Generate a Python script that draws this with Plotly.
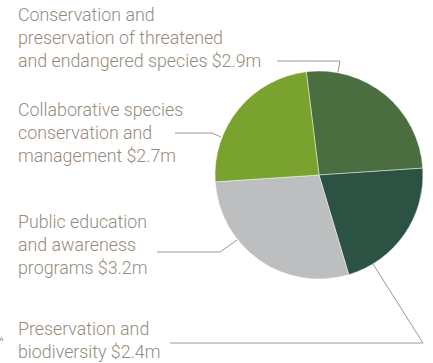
import plotly.graph_objects as go

# Funding by programme area, in $ millions (clockwise from the top)
programs = [
    "Conservation and<br>preservation of threatened<br>and endangered species",
    "Preservation and<br>biodiversity",
    "Public education<br>and awareness<br>programs",
    "Collaborative species<br>conservation and<br>management",
]
funding = [2.9, 2.4, 3.2, 2.7]
colors = ["#4b6e40", "#2c5243", "#bdbec0", "#79a22f"]

# Label placement (pixel space, top-left of each text block)
label_x = [16, 16, 16, 16]
label_y = [2, 316, 209, 97]

# Leader line paths (pixel space) from label to pie edge
leaders = [
    [(277, 61), (340, 61), (338, 72)],
    [(170, 343), (423, 343), (373, 264)],
    [(157, 252), (220, 252), (237, 240)],
    [(175, 133), (212, 133), (221, 137)],
    [(0, 341), (1.5, 337.5), (3, 341)],
]

W, H = 433, 363
cx, cy, r = 319, 175, 104
text_color = "#978a7c"

fig = go.Figure()
fig.add_trace(go.Pie(
    values=funding,
    labels=[p.replace("<br>", " ") for p in programs],
    sort=False,
    direction="clockwise",
    rotation=-7,
    marker=dict(colors=colors, line=dict(color="rgba(255,255,255,0.55)", width=0.8)),
    textinfo="none",
    hoverinfo="label+value",
    showlegend=False,
    domain=dict(x=[(cx - r) / W, (cx + r) / W], y=[(H - cy - r) / H, (H - cy + r) / H]),
))

for name, val, x, y in zip(programs, funding, label_x, label_y):
    fig.add_annotation(
        x=x, y=y, xref="x", yref="y", xanchor="left", yanchor="top",
        text=f"{name} ${val}m", showarrow=False, align="left",
        font=dict(family="Roboto, Liberation Sans, sans-serif", size=17.8,
                  weight=300, color=text_color),
    )

for pts in leaders:
    path = "M " + " L ".join(f"{px},{py}" for px, py in pts)
    fig.add_shape(type="path", path=path, xref="x", yref="y",
                  line=dict(color="#a39785", width=1), layer="above")

fig.update_xaxes(range=[0, W], visible=False, fixedrange=True)
fig.update_yaxes(range=[H, 0], visible=False, fixedrange=True)
fig.update_layout(
    width=W, height=H,
    margin=dict(l=0, r=0, t=0, b=0),
    paper_bgcolor="white", plot_bgcolor="rgba(0,0,0,0)",
)
fig.write_html("out.html")
